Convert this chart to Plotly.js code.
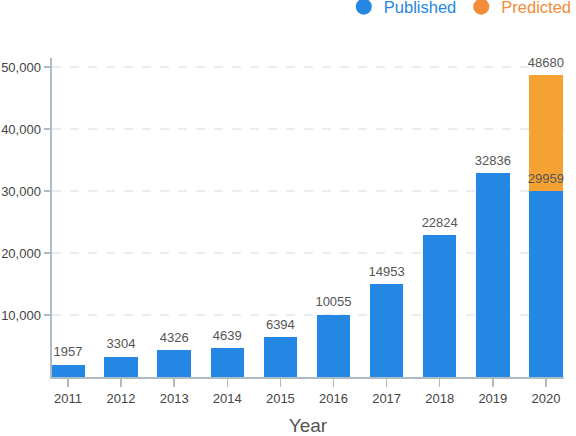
<!DOCTYPE html>
<html>
<head>
<meta charset="utf-8">
<script src="https://cdn.plot.ly/plotly-3.0.1.min.js"></script>
<style>
  html, body { margin: 0; padding: 0; background: #fff; }
  #chart { width: 576px; height: 436px; }
</style>
</head>
<body>
<div id="chart"></div>
<script>
// values
const years = ['2011', '2012', '2013', '2014', '2015', '2016', '2017', '2018', '2019', '2020']
const published = [1957, 3304, 4326, 4639, 6394, 10055, 14953, 22824, 32836, 29959]
// predicted part only exists for 2020, stacked on the published bar
const predictedYears = ['2020']
const predictedTotal = [48680]

const blue = '#2387e3'
const orange = '#f5a232'

const predictedExtra = predictedTotal.map((t, i) => t - published[years.indexOf(predictedYears[i])])

// label positions: every published top, plus the predicted total
const labelX = years.concat(predictedYears)
const labelY = published.concat(predictedTotal)
const labelText = labelY.map(v => String(v))

const traces = [
  {
    type: 'bar',
    x: years,
    y: published,
    marker: { color: blue },
    width: 0.63,
    showlegend: false,
    hoverinfo: 'x+y'
  },
  {
    type: 'bar',
    x: predictedYears,
    y: predictedExtra,
    marker: { color: orange },
    width: 0.63,
    showlegend: false,
    hoverinfo: 'x+y'
  },
  {
    // invisible markers just to lift the text a little off the bar tops
    type: 'scatter',
    mode: 'markers+text',
    x: labelX,
    y: labelY,
    text: labelText,
    textposition: 'top center',
    textfont: { size: 13, color: '#555' },
    marker: { size: 7, opacity: 0 },
    cliponaxis: false,
    showlegend: false,
    hoverinfo: 'skip'
  },
  // legend entries with round markers
  {
    type: 'scatter', mode: 'markers', x: [null], y: [null],
    name: '<span style="color:' + blue + '">Published</span>',
    marker: { color: blue, size: 16, symbol: 'circle' }
  },
  {
    type: 'scatter', mode: 'markers', x: [null], y: [null],
    name: '<span style="color:#f28c38">Predicted</span>',
    marker: { color: '#f28c38', size: 16, symbol: 'circle' }
  }
]

const layout = {
  width: 576,
  height: 436,
  margin: { l: 52, r: 12, t: 58, b: 59, autoexpand: false },
  paper_bgcolor: '#fff',
  plot_bgcolor: '#fff',
  font: { family: 'Liberation Sans, Arial, sans-serif', color: '#444', size: 13 },
  barmode: 'stack',
  showlegend: true,
  legend: {
    orientation: 'h',
    traceorder: 'normal',
    x: 1.025, xanchor: 'right',
    y: 1.215, yanchor: 'top',
    bgcolor: 'rgba(0,0,0,0)',
    font: { size: 16.5 },
    itemwidth: 30,
    tracegroupgap: 0
  },
  xaxis: {
    type: 'category',
    range: [-0.3, 9.34],
    showline: true,
    linecolor: '#aebbc3',
    linewidth: 2,
    ticks: 'outside',
    ticklen: 8,
    tickcolor: '#aebbc3',
    tickwidth: 1.5,
    showgrid: false,
    tickfont: { size: 13, color: '#444' },
    title: { text: 'Year', font: { size: 19, color: '#555' }, standoff: 20 }
  },
  yaxis: {
    range: [0, 51450],
    tickvals: [10000, 20000, 30000, 40000, 50000],
    tickformat: ',d',
    showline: true,
    linecolor: '#aebbc3',
    linewidth: 2.5,
    ticks: 'outside',
    ticklen: 6,
    tickcolor: '#aebbc3',
    tickwidth: 1.5,
    showgrid: true,
    gridcolor: '#e9edf0',
    gridwidth: 1.5,
    griddash: 'dash',
    zeroline: false,
    tickfont: { size: 13, color: '#444' }
  }
}

Plotly.newPlot('chart', traces, layout, { displayModeBar: false, staticPlot: true })
</script>
</body>
</html>
